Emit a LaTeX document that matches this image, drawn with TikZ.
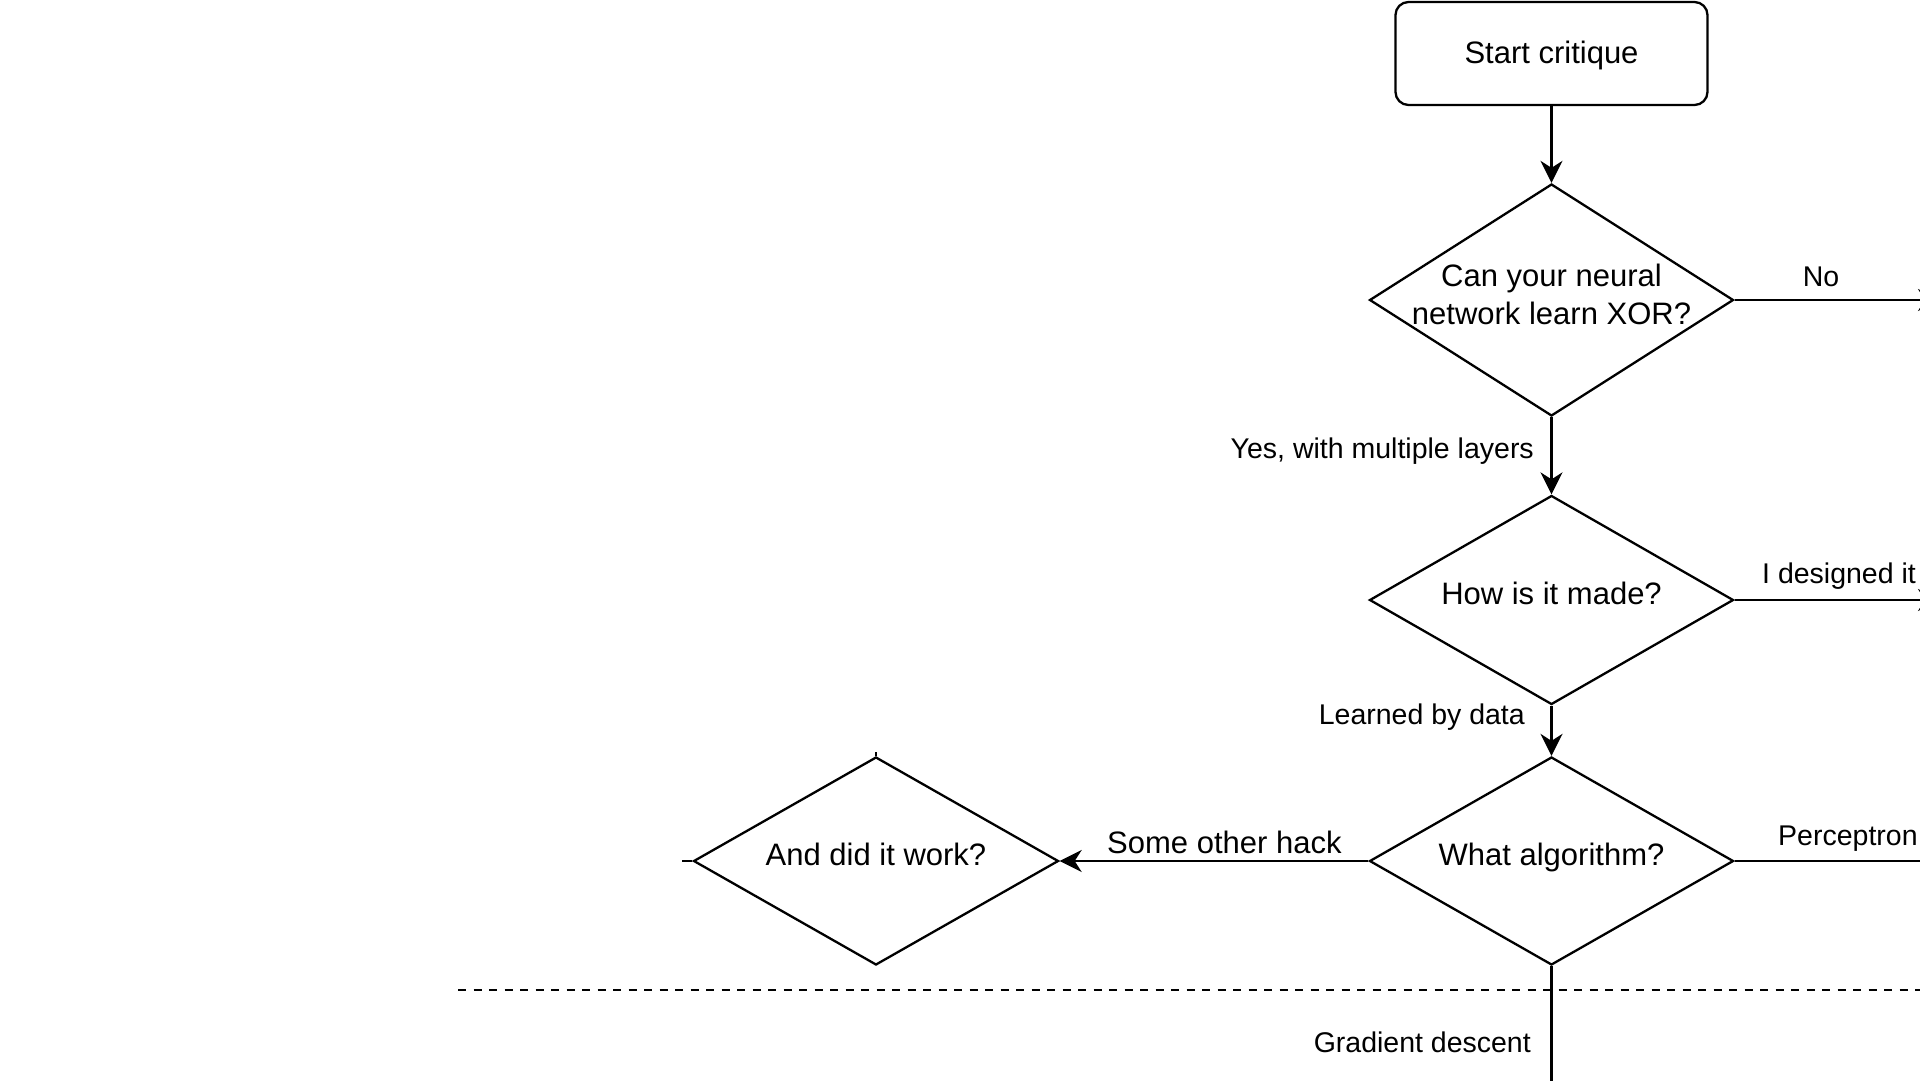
\documentclass[tikz,border=0pt]{standalone}
\usepackage{fontspec}
\setmainfont{Liberation Sans}
\usetikzlibrary{shapes.geometric,arrows.meta}
\newcommand\myNodeFont{\fontsize{31pt}{37.5pt}\selectfont}
\newcommand\myLblFont{\fontsize{28.5pt}{34pt}\selectfont}
\newcommand\myDStrut[1]{\rule[-#1]{0pt}{#1}}
\tikzset{
  conn/.style={line width=2.3pt, draw=black},
  arr/.style={conn, -{Stealth[length=22pt,width=22pt,inset=7pt]}},
  startbox/.style={draw, line width=2.3pt, rounded corners=13pt, minimum width=312pt,
    minimum height=103pt, inner sep=0pt, font=\myNodeFont, align=center},
  decision/.style={draw, line width=2.3pt, shape=diamond, aspect=1.6, inner sep=0pt,
    font=\myNodeFont, align=center},
  lbl/.style={inner sep=0pt, font=\myLblFont},
}
\begin{document}
\begin{tikzpicture}[x=1pt,y=-1pt]
\useasboundingbox (0,0) rectangle (1920,1080);
\fill[white] (0,0) rectangle (1920,1080);
\clip (0,0) rectangle (1920,1080);

% nodes
\node[startbox] (start) at (1551.5,53.5) {Start critique\rule{0pt}{26.5pt}};
\node[decision, minimum width=364pt, minimum height=232pt] (d1) at (1551.5,300)
  {\makebox[0pt]{Can your neural}\\\makebox[0pt]{network learn XOR?}\myDStrut{11pt}};
\node[decision, minimum width=364pt, minimum height=209pt] (d2) at (1551.5,600)
  {How is it made?\myDStrut{12.6pt}};
\node[decision, minimum width=364pt, minimum height=208pt] (d3) at (1551.5,861)
  {What algorithm?\myDStrut{12.6pt}};
\node[decision, minimum width=365pt, minimum height=208pt] (d4) at (876,861)
  {And did it work?\myDStrut{12.6pt}};

% off-picture ends
\coordinate (r1) at (1940,300);
\coordinate (r2) at (1940,600);
\coordinate (r3) at (2000,861);
\coordinate (b3) at (1551.5,1095);
\coordinate (s1) at (876,752);
\coordinate (s2) at (682,861);
\coordinate (dl) at (458,990);
\coordinate (dr) at (1925,990);

% dashed separator
\draw[conn, dash pattern=on 8pt off 7.5pt] (dl) -- (dr);

% connectors
\draw[arr] (start) -- (d1);
\draw[arr] (d1) -- (d2);
\draw[arr] (d2) -- (d3);
\draw[arr] (d3) -- (d4);
\draw[arr] (d1) -- (r1);
\draw[arr] (d2) -- (r2);
\draw[arr] (d3) -- (r3);
\draw[conn] (d3) -- (b3);
\draw[conn] (d4.north) -- (s1);
\draw[conn] (d4.west) -- (s2);

% labels
\node[lbl, anchor=base] (lno) at (1821,286) {No};
\node[lbl, anchor=base east] (lyes) at (1534,458) {Yes, with multiple layers};
\node[lbl, anchor=base west] (ldes) at (1762,583) {I designed it};
\node[lbl, anchor=base east] (llearn) at (1525,724) {Learned by data};
\node[lbl, anchor=base west] (lperc) at (1778,845) {Perceptron};
\node[lbl, font=\myNodeFont, anchor=base west] (lhack) at (1107,853) {Some other hack};
\node[lbl, anchor=base east] (lgrad) at (1531,1052) {Gradient descent};
\end{tikzpicture}
\end{document}
